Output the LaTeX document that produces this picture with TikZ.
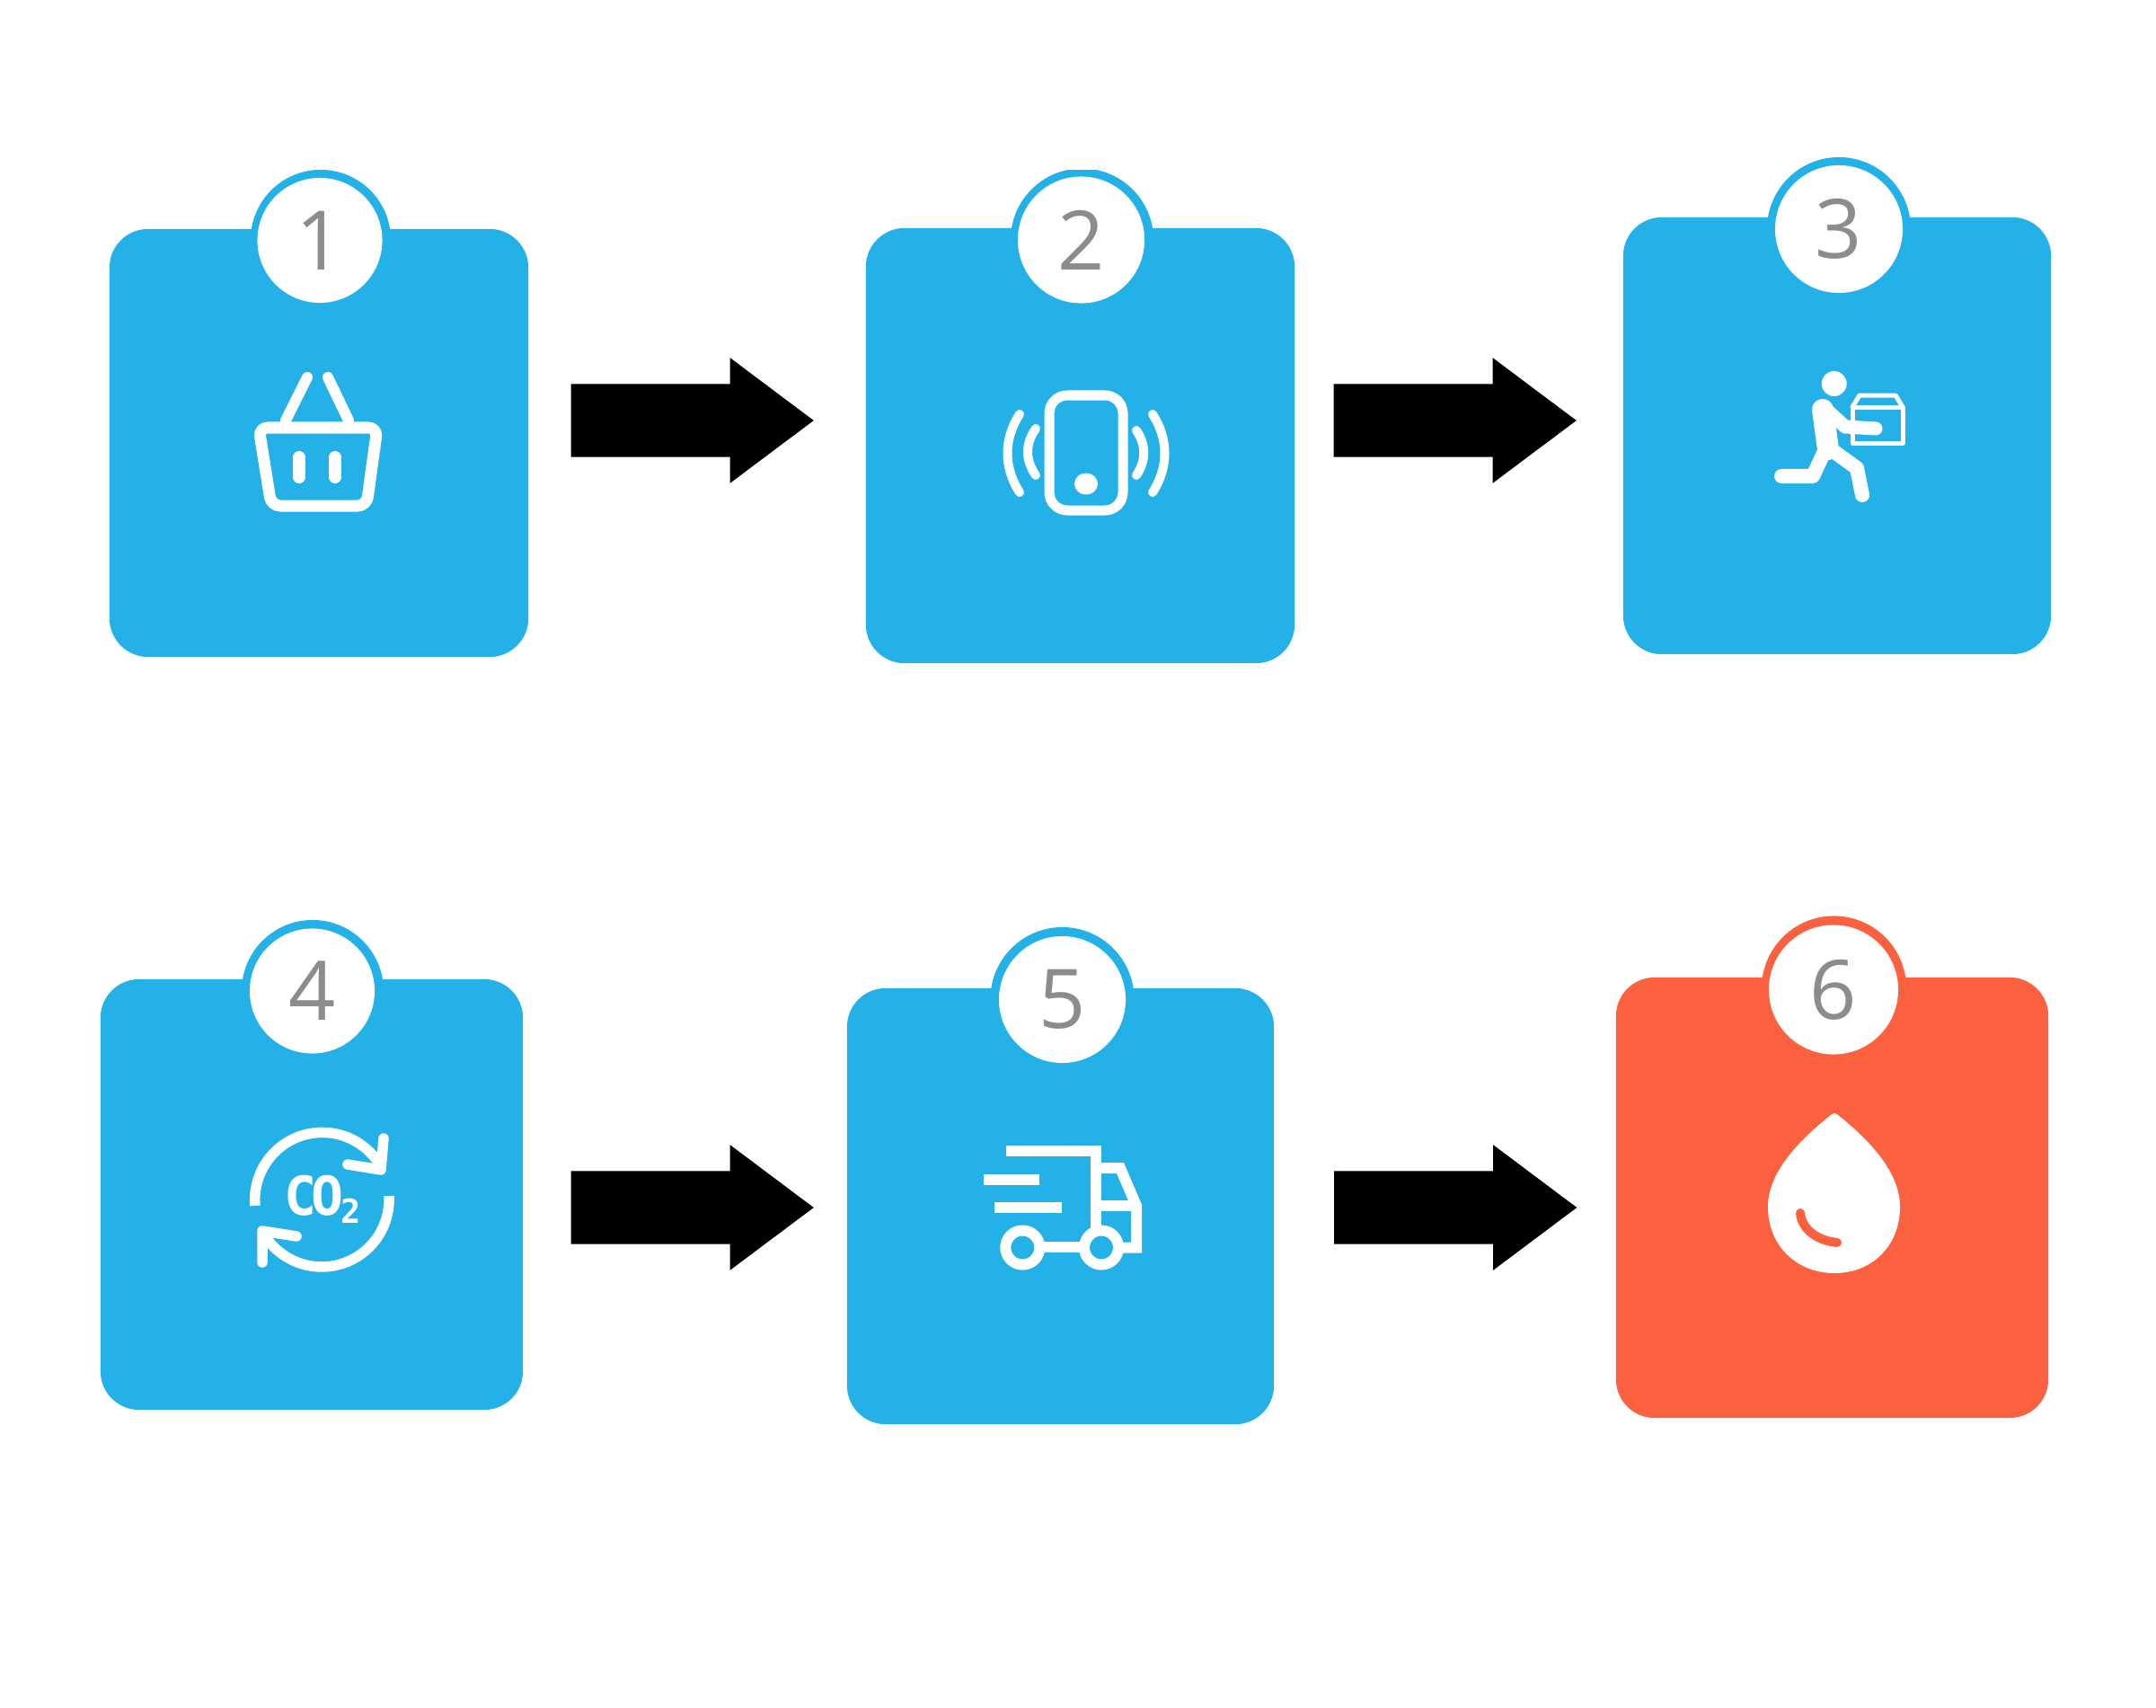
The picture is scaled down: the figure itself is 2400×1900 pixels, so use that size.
\documentclass[tikz,border=0pt]{standalone}
\usepackage{fontspec}
\setmainfont{Open Sans}
\newfontfamily\cofont{DejaVu Sans Mono}[BoldFont=* Bold]
\usetikzlibrary{shapes.arrows}
\definecolor{cblue}{HTML}{23B1E7}
\definecolor{corange}{HTML}{FB613F}
\definecolor{dgray}{HTML}{8C8C8C}
\tikzset{
  x=0.01cm,y=0.01cm,
  cardbox/.style={rectangle,rounded corners=0.43cm,inner sep=0pt,outer sep=0pt},
  ringdisc/.style={circle,inner sep=0pt,outer sep=0pt},
  badge/.style={circle,fill=white,inner sep=0pt,outer sep=0pt,text=dgray,font=\fontsize{26pt}{26pt}\selectfont},
  blockarrow/.style={single arrow,fill=black,inner sep=0pt,inner ysep=0.4cm,outer sep=0pt,
    minimum height=2.7cm,minimum width=1.38cm,single arrow head extend=0.29cm,
    single arrow head indent=0pt,single arrow tip angle=73.7},
  icon/.style={draw=white,line width=0.13cm,line cap=round,line join=round},
}
\begin{document}
\begin{tikzpicture}
\useasboundingbox (0,0) rectangle (2400,-1900);
\fill[white] (0,0) rectangle (2400,-1900);
% rings
\node[ringdisc,fill=cblue,minimum size=1.56cm] (ring1) at (357,-267) {};
\begin{scope}
  \clip (1100,-190) rectangle (1300,-300);
  \node[ringdisc,fill=cblue,minimum size=1.59cm] (ring2) at (1204.5,-267) {};
\end{scope}
\node[ringdisc,fill=cblue,minimum size=1.60cm] (ring3) at (2047,-255) {};
\node[ringdisc,fill=cblue,minimum size=1.58cm] (ring4) at (348,-1103) {};
\node[ringdisc,fill=cblue,minimum size=1.60cm] (ring5) at (1182.5,-1112) {};
\node[ringdisc,fill=corange,minimum size=1.61cm] (ring6) at (2041.5,-1100) {};
% cards
\node[cardbox,fill=cblue,minimum width=4.66cm,minimum height=4.76cm] (card1) at (355,-493) {};
\node[cardbox,fill=cblue,minimum width=4.77cm,minimum height=4.84cm] (card2) at (1202.5,-496) {};
\node[cardbox,fill=cblue,minimum width=4.76cm,minimum height=4.86cm] (card3) at (2045,-485) {};
\node[cardbox,fill=cblue,minimum width=4.70cm,minimum height=4.79cm] (card4) at (347,-1329.5) {};
\node[cardbox,fill=cblue,minimum width=4.75cm,minimum height=4.85cm] (card5) at (1180.5,-1342.5) {};
\node[cardbox,fill=corange,minimum width=4.81cm,minimum height=4.90cm] (card6) at (2039.5,-1333) {};
% badges
\node[badge,minimum size=1.39cm] (badge1) at (356,-267.5) {1};
\node[badge,minimum size=1.41cm] (badge2) at (1203.5,-267) {2};
\node[badge,minimum size=1.42cm] (badge3) at (2047,-255) {3};
\node[badge,minimum size=1.39cm] (badge4) at (347.5,-1103) {4};
\node[badge,minimum size=1.41cm] (badge5) at (1182.5,-1112.5) {5};
\node[badge,minimum size=1.44cm] (badge6) at (2041,-1101.5) {6};
% arrows
\node[blockarrow] (arrow12) at (743.5,-468) {};
\node[blockarrow] (arrow23) at (1592.5,-468) {};
\node[blockarrow] (arrow45) at (743.5,-1344) {};
\node[blockarrow] (arrow56) at (1593,-1344) {};
% basket
\draw[icon,rounded corners=0.1cm] (288,-476) -- (420,-476) -- (408,-563) -- (302,-563) -- cycle;
\draw[icon,line width=0.12cm] (342,-420) -- (318,-468) (365,-420) -- (388,-468);
\draw[icon,line width=0.14cm] (333,-509) -- (333,-531) (373,-509) -- (373,-531);
% phone
\draw[icon,line width=0.11cm,rounded corners=0.2cm] (1168,-440) rectangle (1250,-568);
\fill[white] (1209,-538.5) ellipse[x radius=0.13cm,y radius=0.12cm];
\draw[icon,line width=0.10cm] (1135,-461) .. controls (1117,-489) and (1117,-520) .. (1135,-548);
\draw[icon,line width=0.10cm] (1153,-477) .. controls (1141,-494) and (1141,-512) .. (1153,-529);
\draw[icon,line width=0.10cm] (1265,-479) .. controls (1276,-496) and (1276,-512) .. (1265,-529);
\draw[icon,line width=0.10cm] (1283,-461) .. controls (1301,-489) and (1301,-520) .. (1283,-548);
% runner
\fill[white] (2041.7,-427) circle[radius=0.14cm];
\draw[icon,line width=0.05cm] (2062,-453) -- (2118,-453) -- (2118,-493) -- (2062,-493) -- cycle;
\draw[icon,line width=0.05cm] (2062,-453) -- (2070,-440) -- (2110,-440) -- (2118,-453);
\draw[icon,line width=0.24cm] (2029,-456) -- (2035,-500);
\draw[icon,line width=0.15cm] (2030,-453) -- (2054,-475) -- (2088,-477);
\draw[icon,line width=0.16cm] (2032,-500) -- (2018,-530) -- (1983,-530);
\draw[icon,line width=0.16cm] (2038,-500) -- (2067,-521) -- (2073,-551);
% co2 cycle
\draw[icon,line width=0.115cm,line cap=butt] (284,-1342) arc[start angle=185,end angle=28,radius=0.75cm];
\draw[icon,line width=0.115cm] (387,-1296) -- (424,-1302) -- (427,-1267);
\draw[icon,line width=0.115cm,line cap=butt] (433,-1331) arc[start angle=3,end angle=-153,radius=0.75cm];
\draw[icon,line width=0.115cm] (330,-1376) -- (292,-1370) -- (292,-1405);
\node[text=white,inner sep=0pt,font=\cofont\bfseries\fontsize{17pt}{17pt}\selectfont] (co2) at (359,-1335)
  {C\kern-1.6pt O\kern-1pt\raisebox{-2.6pt}{\fontsize{10.5pt}{10.5pt}\selectfont 2}};
% truck
\draw[icon,line width=0.12cm,line cap=butt,line join=miter] (1120,-1281) -- (1220,-1281) -- (1220,-1372);
\draw[icon,line width=0.12cm,line cap=butt,line join=miter] (1220,-1300) -- (1247,-1300) -- (1265,-1342) -- (1265,-1388.5) -- (1250,-1388.5);
\draw[icon,line width=0.12cm,line cap=butt] (1220,-1342) -- (1265,-1342);
\draw[icon,line width=0.12cm,line cap=butt] (1095,-1312.6) -- (1157,-1312.6) (1107,-1344) -- (1182,-1344);
\draw[icon,line width=0.12cm] (1138.3,-1388.5) circle[radius=0.19cm];
\draw[icon,line width=0.12cm] (1226,-1388.5) circle[radius=0.19cm];
\draw[icon,line width=0.12cm,line cap=butt] (1158,-1388) -- (1206,-1388);
% drop
\draw[fill=white,draw=white,line width=0.08cm,line join=round]
  (2042,-1243) .. controls (2075,-1269) and (2111,-1305) .. (2111,-1343)
  .. controls (2111,-1385) and (2081,-1413) .. (2042,-1413)
  .. controls (2003,-1413) and (1972,-1385) .. (1972,-1343)
  .. controls (1972,-1305) and (2009,-1269) .. (2042,-1243) -- cycle;
\draw[draw=corange,line width=0.10cm,line cap=round] (2004,-1350) .. controls (2006,-1370) and (2025,-1381) .. (2045,-1383);
\end{tikzpicture}
\end{document}
